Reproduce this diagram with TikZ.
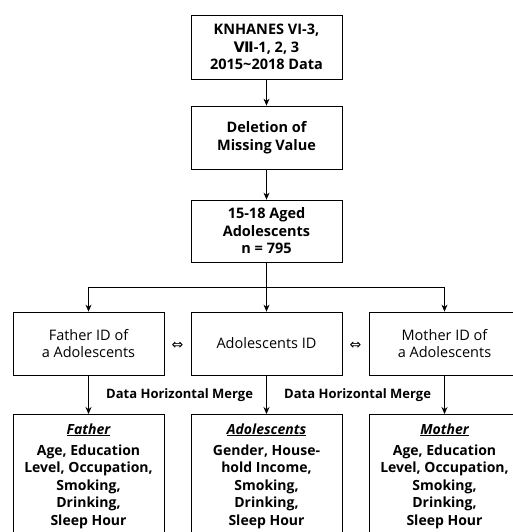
\documentclass[tikz,border=0pt]{standalone}
\usepackage{fontspec}
\setmainfont{Open Sans}
\newfontfamily\symfont{DejaVu Sans}
\usetikzlibrary{arrows.meta}
\tikzset{>={Stealth[length=7pt,width=6pt]}}

\begin{document}
\begin{tikzpicture}[x=1pt,y=-1pt,line width=0.8pt,
    box/.style={draw,minimum width=151pt,align=center,inner sep=2pt,
      font=\fontsize{14.5}{17.5}\selectfont\bfseries},
    idbox/.style={box,minimum height=63pt,font=\fontsize{14.5}{17.5}\selectfont},
    varbox/.style={box,anchor=north,inner ysep=9pt,text depth=40pt,
      font=\fontsize{14}{17.5}\selectfont\bfseries},
    mergelabel/.style={font=\fontsize{13}{14}\selectfont\bfseries},
    swap/.style={font=\symfont\fontsize{14}{16}\selectfont,yshift=-2pt}]
  \clip (0,0) rectangle (513,532);
  % top of the chart
  \node[box,minimum height=64pt] (knhanes) at (266.5,47)
    {KNHANES VI-3,\\{\symfont\bfseries Ⅶ}-1, 2, 3\\2015\textasciitilde 2018 Data};
  \node[box,minimum height=63pt] (deletion) at (266.5,137.5) {Deletion of\\Missing Value};
  \node[box,minimum height=62pt] (sample) at (266.5,231) {15-18 Aged\\Adolescents\\n = 795};
  \draw[->] (knhanes) -- (deletion);
  \draw[->] (deletion) -- (sample);
  % ID row
  \node[idbox] (fatherid) at (88.5,343.5) {Father ID of\\a Adolescents};
  \node[idbox] (adolid) at (266.5,343.5) {Adolescents ID};
  \node[idbox] (motherid) at (444.5,343.5) {Mother ID of\\a Adolescents};
  \draw (sample.south) -- ++(0,25) coordinate (split);
  \draw[->] (split) -| (fatherid.north);
  \draw[->] (split) -| (motherid.north);
  \draw[->] (sample.south) -- (adolid.north);
  \path (fatherid) -- node[swap] {⇔} (adolid);
  \path (adolid) -- node[swap] {⇔} (motherid);
  % variables
  \node[varbox] (fathervar) at (88.5,414)
    {\underline{\itshape Father}\\[3.5pt]Age, Education\\Level, Occupation,\\Smoking,\\Drinking,\\Sleep Hour};
  \node[varbox] (adolvar) at (266.5,414)
    {\underline{\itshape Adolescents}\\[3.5pt]Gender, House-\\hold Income,\\Smoking,\\Drinking,\\Sleep Hour};
  \node[varbox] (mothervar) at (444.5,414)
    {\underline{\itshape Mother}\\[3.5pt]Age, Education\\Level, Occupation,\\Smoking,\\Drinking,\\Sleep Hour};
  \draw[->] (fatherid) -- node[mergelabel,anchor=west,xshift=14pt] {Data Horizontal Merge} (fathervar);
  \draw[->] (adolid) -- node[mergelabel,anchor=west,xshift=14pt] {Data Horizontal Merge} (adolvar);
  \draw[->] (motherid) -- (mothervar);
\end{tikzpicture}
\end{document}
